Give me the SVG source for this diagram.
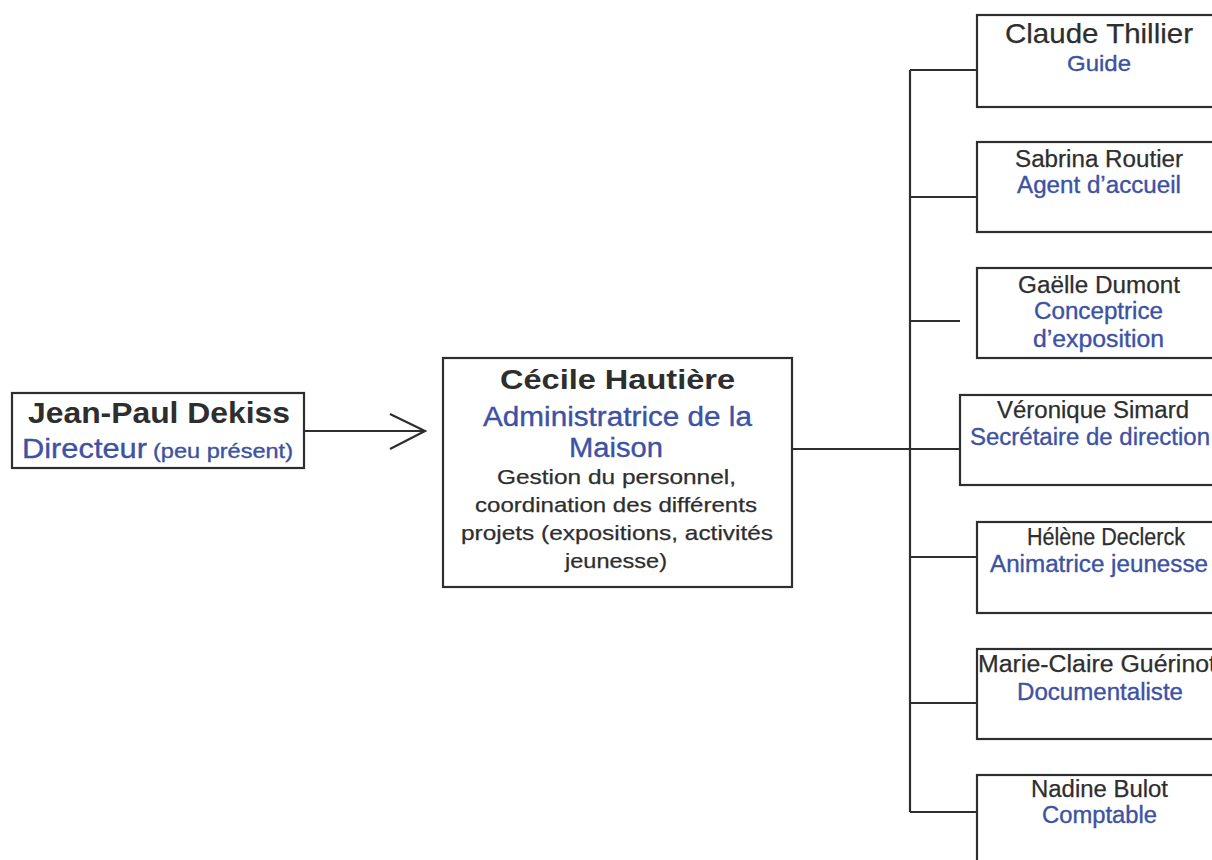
<svg xmlns="http://www.w3.org/2000/svg" width="1212" height="860" viewBox="0 0 1212 860">
<style>
.box{fill:#fff;stroke:#2e2e2e;stroke-width:2.2}
.ln{fill:none;stroke:#2e2e2e;stroke-width:2.2}
.t{font-family:"Liberation Sans",Arial,sans-serif;fill:#2e2e2e;stroke:#2e2e2e;stroke-width:0.25}
.b{font-weight:bold;stroke-width:0}
.blue{fill:#3d52a3;stroke:#3d52a3;stroke-width:0.35}
</style>
<rect width="1212" height="860" fill="#fff"/>
<g id="connectors">
<line class="ln" x1="304" y1="431" x2="424" y2="431"/>
<polyline class="ln" points="390,414 425,431 390,449"/>
<line class="ln" x1="792" y1="449" x2="960" y2="449"/>
<line class="ln" x1="910" y1="70" x2="910" y2="812"/>
<line class="ln" x1="910" y1="70" x2="977" y2="70"/>
<line class="ln" x1="910" y1="197" x2="977" y2="197"/>
<line class="ln" x1="910" y1="321" x2="960" y2="321"/>
<line class="ln" x1="910" y1="557" x2="977" y2="557"/>
<line class="ln" x1="910" y1="703" x2="977" y2="703"/>
<line class="ln" x1="910" y1="812" x2="977" y2="812"/>
</g>
<g id="node-dekiss">
<rect class="box" x="12" y="393" width="292" height="75"/>
<text class="t b" x="28" y="423" font-size="29" textLength="262" lengthAdjust="spacingAndGlyphs">Jean-Paul Dekiss</text>
<text class="t blue" x="22" y="458" font-size="28" textLength="125" lengthAdjust="spacingAndGlyphs">Directeur</text>
<text class="t blue" x="153" y="458" font-size="20" textLength="140" lengthAdjust="spacingAndGlyphs">(peu présent)</text>
</g>
<g id="node-hautiere">
<rect class="box" x="443" y="358" width="349" height="229"/>
<text class="t b" x="500" y="389" font-size="27" textLength="235" lengthAdjust="spacingAndGlyphs">Cécile Hautière</text>
<text class="t blue" x="483" y="426" font-size="27" textLength="269" lengthAdjust="spacingAndGlyphs">Administratrice de la</text>
<text class="t blue" x="569" y="457" font-size="27" textLength="94" lengthAdjust="spacingAndGlyphs">Maison</text>
<text class="t" x="497" y="484" font-size="21" textLength="239" lengthAdjust="spacingAndGlyphs">Gestion du personnel,</text>
<text class="t" x="475" y="512" font-size="21" textLength="282" lengthAdjust="spacingAndGlyphs">coordination des différents</text>
<text class="t" x="461" y="540" font-size="21" textLength="312" lengthAdjust="spacingAndGlyphs">projets (expositions, activités</text>
<text class="t" x="565" y="568" font-size="21" textLength="102" lengthAdjust="spacingAndGlyphs">jeunesse)</text>
</g>
<g id="node-thillier">
<rect class="box" x="977" y="15" width="260" height="92"/>
<text class="t" x="1005" y="43" font-size="28" textLength="188" lengthAdjust="spacingAndGlyphs">Claude Thillier</text>
<text class="t blue" x="1067" y="71" font-size="22" textLength="64" lengthAdjust="spacingAndGlyphs">Guide</text>
</g>
<g id="node-routier">
<rect class="box" x="977" y="142" width="260" height="90"/>
<text class="t" x="1015" y="167" font-size="23" textLength="168" lengthAdjust="spacingAndGlyphs">Sabrina Routier</text>
<text class="t blue" x="1017" y="193" font-size="23" textLength="164" lengthAdjust="spacingAndGlyphs">Agent d’accueil</text>
</g>
<g id="node-dumont">
<rect class="box" x="977" y="268" width="260" height="90"/>
<text class="t" x="1018" y="293" font-size="23" textLength="162" lengthAdjust="spacingAndGlyphs">Gaëlle Dumont</text>
<text class="t blue" x="1034" y="319" font-size="23" textLength="129" lengthAdjust="spacingAndGlyphs">Conceptrice</text>
<text class="t blue" x="1033" y="347" font-size="23" textLength="131" lengthAdjust="spacingAndGlyphs">d’exposition</text>
</g>
<g id="node-simard">
<rect class="box" x="960" y="395" width="280" height="90"/>
<text class="t" x="997" y="418" font-size="23" textLength="192" lengthAdjust="spacingAndGlyphs">Véronique Simard</text>
<text class="t blue" x="970" y="445" font-size="23" textLength="240" lengthAdjust="spacingAndGlyphs">Secrétaire de direction</text>
</g>
<g id="node-declerck">
<rect class="box" x="977" y="522" width="260" height="91"/>
<text class="t" x="1027" y="545" font-size="23" textLength="158" lengthAdjust="spacingAndGlyphs">Hélène Declerck</text>
<text class="t blue" x="990" y="572" font-size="23" textLength="218" lengthAdjust="spacingAndGlyphs">Animatrice jeunesse</text>
</g>
<g id="node-guerinot">
<rect class="box" x="977" y="649" width="260" height="90"/>
<text class="t" x="978" y="672" font-size="23" textLength="238" lengthAdjust="spacingAndGlyphs">Marie-Claire Guérinot</text>
<text class="t blue" x="1017" y="700" font-size="23" textLength="166" lengthAdjust="spacingAndGlyphs">Documentaliste</text>
</g>
<g id="node-bulot">
<rect class="box" x="977" y="775" width="260" height="100"/>
<text class="t" x="1031" y="797" font-size="23" textLength="137" lengthAdjust="spacingAndGlyphs">Nadine Bulot</text>
<text class="t blue" x="1042" y="823" font-size="23" textLength="115" lengthAdjust="spacingAndGlyphs">Comptable</text>
</g>
</svg>
